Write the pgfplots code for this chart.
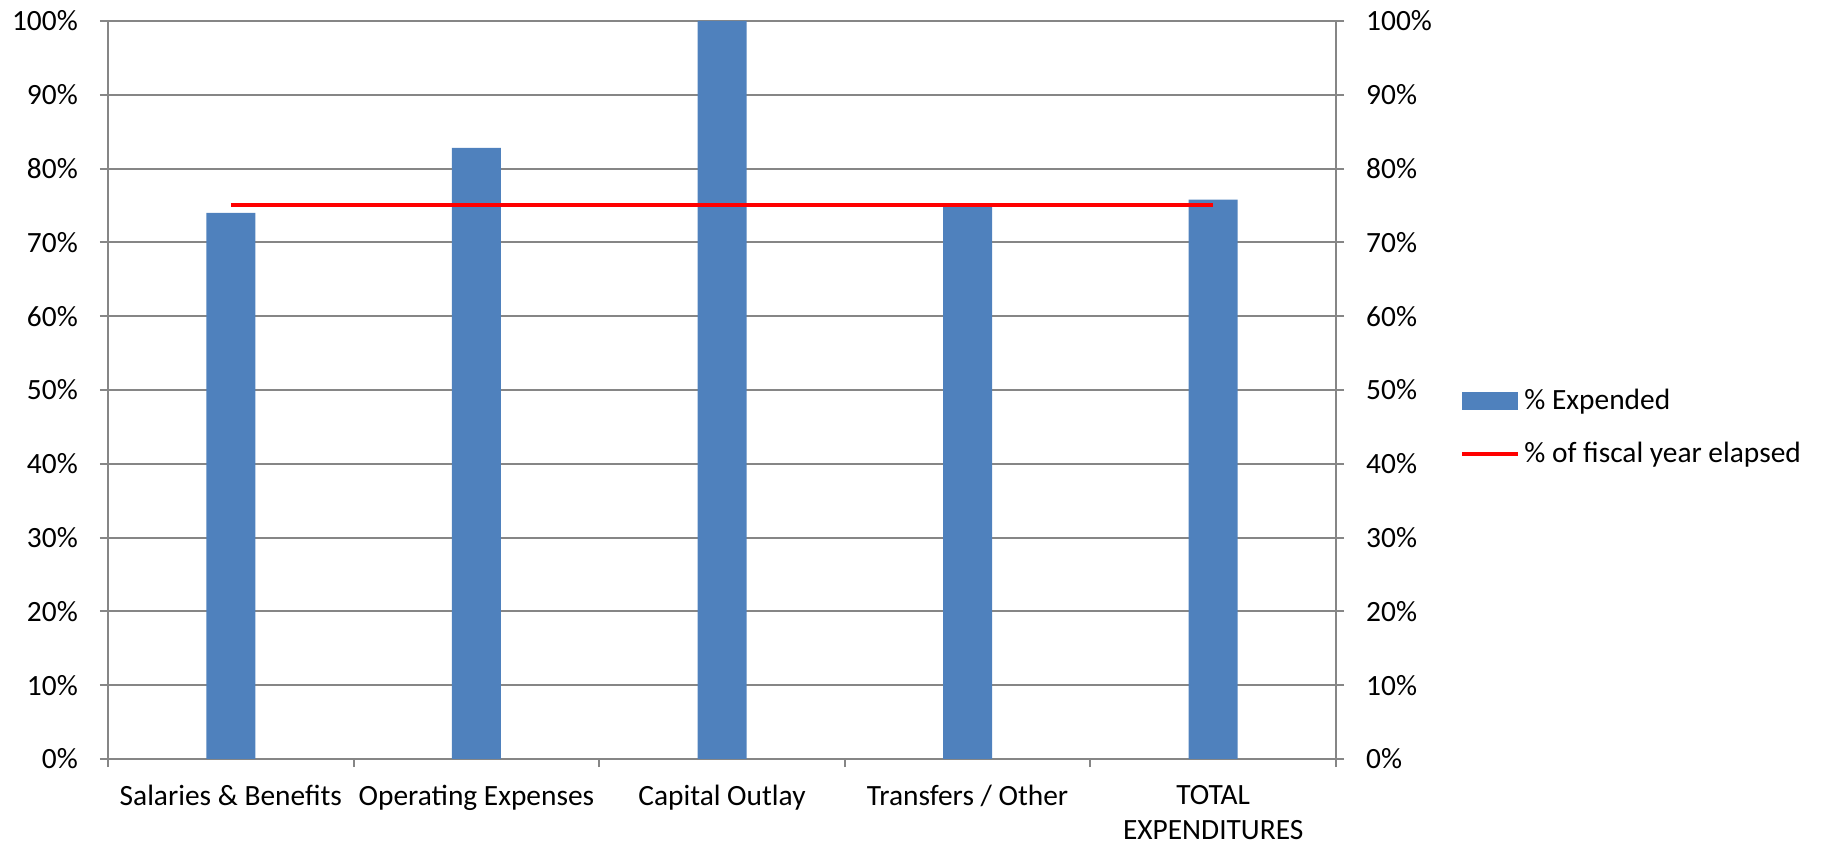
\documentclass[border=0pt]{standalone}
\usepackage{fontspec}
\setmainfont{Carlito}
\usepackage{pgfplots}
\pgfplotsset{compat=1.18}
\definecolor{barblue}{HTML}{4F81BD}
\definecolor{axgray}{HTML}{868686}
\newcommand{\chartfont}{\fontsize{14.7pt}{17.5pt}\selectfont}
\begin{document}
\chartfont
\begin{tikzpicture}
\useasboundingbox (0,0) rectangle (912.5pt,422.5pt);
\begin{axis}[
  at={(54pt,43pt)}, anchor=south west,
  width=614pt, height=369pt, scale only axis,
  xmin=-0.5, xmax=4.5, ymin=0, ymax=100,
  axis x line*=bottom, axis y line*=left,
  axis line style={axgray, line width=1pt},
  xtick={0,1,2,3,4},
  xticklabels={Salaries \& Benefits, Operating Expenses, Capital Outlay, Transfers / Other, {TOTAL\\EXPENDITURES}},
  xticklabel style={align=center, font=\chartfont, yshift=-4pt},
  minor xtick={-0.5,0.5,1.5,2.5,3.5,4.5},
  major x tick style={draw=none},
  minor x tick style={axgray, line width=1pt},
  tick align=outside,
  major tick length=4pt, minor tick length=4pt,
  ytick={0,10,...,100},
  yticklabel={\pgfmathprintnumber{\tick}\%},
  yticklabel style={font=\chartfont, xshift=-6pt},
  /pgf/number format/assume math mode=true,
  ytick style={axgray, line width=1pt},
  ymajorgrids, grid style={axgray, line width=1pt},
  legend style={draw=none, fill=none, at={(1.101,0.449)}, anchor=west,
    row sep=10pt, font=\chartfont, inner sep=0pt},
  legend cell align=left,
]
\addplot[ybar, bar width=24.5pt, fill=barblue, draw=none, area legend,
  legend image code/.code={\fill[barblue] (0pt,-4.5pt) rectangle (28pt,4.5pt);}]
  coordinates {(0,74.0) (1,82.8) (2,100) (3,74.8) (4,75.8)};
\addlegendentry{\% Expended}
\addplot[red, line width=2pt, mark=none,
  legend image code/.code={\draw[red, line width=2pt] (0pt,0pt) -- (28pt,0pt);}]
  coordinates {(0,75) (1,75) (2,75) (3,75) (4,75)};
\addlegendentry{\% of fiscal year elapsed}
\end{axis}
\begin{axis}[
  at={(54pt,43pt)}, anchor=south west,
  width=614pt, height=369pt, scale only axis,
  xmin=-0.5, xmax=4.5, ymin=0, ymax=100,
  axis x line=none, axis y line*=right,
  axis line style={axgray, line width=1pt},
  tick align=outside, major tick length=4pt,
  ytick={0,10,...,100},
  yticklabel={\pgfmathprintnumber{\tick}\%},
  yticklabel style={font=\chartfont, xshift=6pt},
  /pgf/number format/assume math mode=true,
  ytick style={axgray, line width=1pt},
]
\end{axis}
\end{tikzpicture}
\end{document}
